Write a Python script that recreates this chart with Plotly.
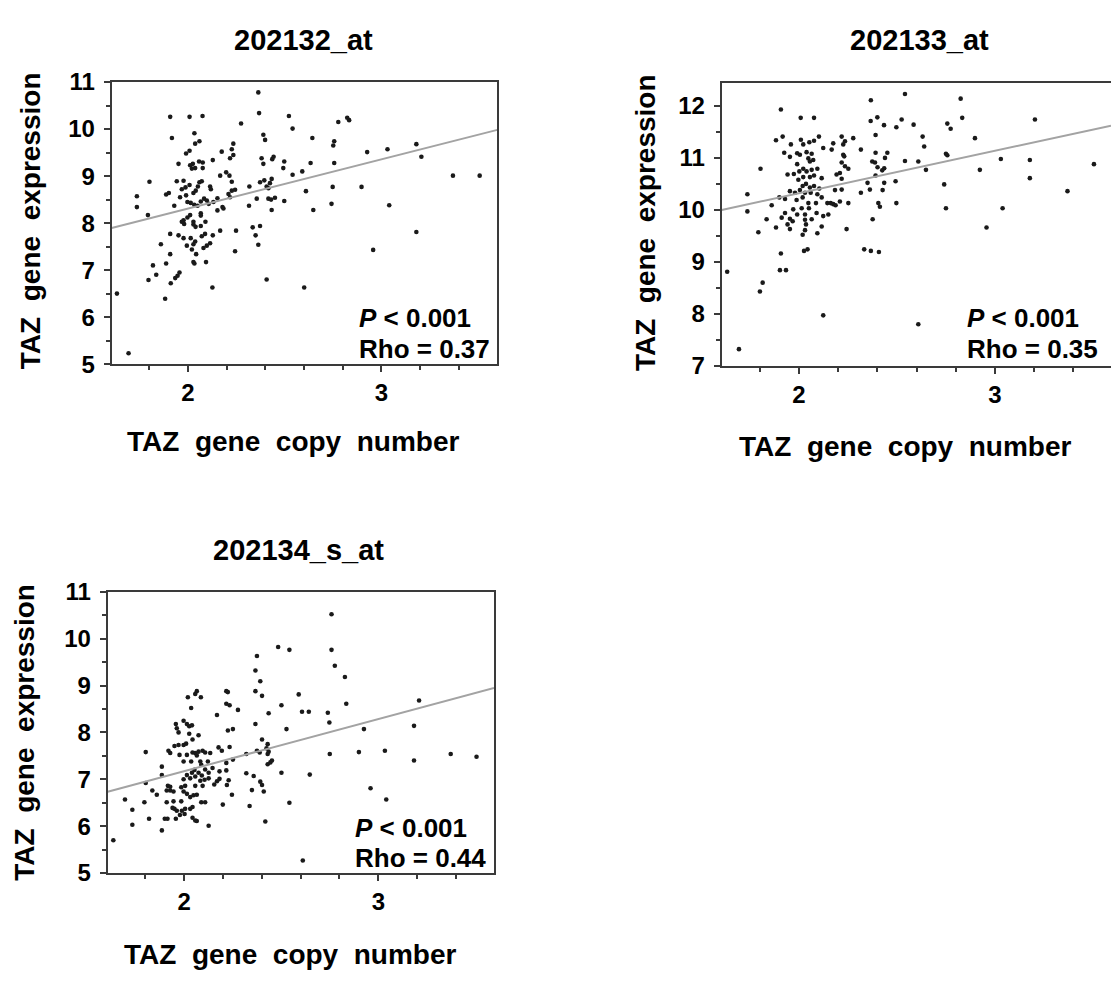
import numpy as np
import plotly.graph_objects as go

FONT = "Liberation Sans, Arial, sans-serif"
W, H = 1111, 985

# ---- 202132_at : copy number vs expression ----
cn_202132 = [
    1.909, 2.009, 2.076, 1.918, 2.034, 2.060, 2.038, 2.009, 1.991, 2.058,
    2.077, 2.026, 2.012, 2.021, 2.038, 2.077, 2.129, 1.952, 1.802, 1.943,
    1.978, 2.060, 2.072, 2.052, 2.041, 2.029, 2.009, 1.988, 1.969, 2.115,
    2.119, 1.888, 1.902, 1.737, 1.737, 1.930, 1.960, 1.991, 1.998, 2.015,
    2.033, 2.050, 2.067, 2.084, 2.098, 2.108, 2.132, 2.153, 2.153, 2.067,
    2.067, 1.794, 2.012, 1.998, 1.978, 1.969, 1.981, 2.029, 2.029, 2.040,
    2.067, 2.091, 1.909, 1.952, 1.978, 2.015, 2.038, 2.029, 1.995, 2.021,
    2.043, 2.072, 2.089, 2.129, 2.115, 2.098, 2.081, 1.861, 1.909, 1.888,
    2.029, 2.034, 2.094, 1.820, 1.837, 1.797, 1.935, 1.947, 1.957, 1.912,
    1.883, 2.127,
    2.368, 2.522, 2.275, 2.541, 2.390, 2.399, 2.235, 2.227, 2.235, 2.218,
    2.175, 2.381, 2.436, 2.443, 2.390, 2.498, 2.493, 2.167, 2.198, 2.215,
    2.227, 2.373, 2.395, 2.433, 2.407, 2.416, 2.424, 2.541, 2.591, 2.318,
    2.210, 2.227, 2.244, 2.218, 2.179, 2.184, 2.356, 2.416, 2.430, 2.450,
    2.498, 2.316, 2.433, 2.167, 2.249, 2.335, 2.373, 2.350, 2.364, 2.244,
    2.407, 2.601,
    2.777, 2.823, 2.833, 2.643, 2.756, 2.751, 2.926, 3.031, 3.180, 3.206,
    2.634, 2.756, 3.369, 3.507, 2.610, 2.748, 2.897, 2.648, 2.742, 3.040,
    3.180, 2.957, 1.634, 1.694, 2.364,
]
expr_202132 = [
    10.26, 10.26, 10.28, 9.81, 9.91, 9.74, 9.69, 9.54, 9.48, 9.31,
    9.29, 9.26, 9.23, 9.16, 9.17, 9.17, 9.34, 9.26, 8.88, 8.89,
    8.90, 8.87, 8.89, 8.78, 8.69, 8.64, 8.81, 8.76, 8.72, 8.78,
    8.72, 8.61, 8.64, 8.57, 8.34, 8.37, 8.55, 8.59, 8.45, 8.43,
    8.39, 8.37, 8.46, 8.52, 8.48, 8.41, 8.45, 8.53, 8.27, 8.21,
    8.16, 8.17, 8.17, 8.12, 8.06, 8.03, 7.98, 8.03, 7.97, 7.92,
    7.94, 8.03, 7.77, 7.74, 7.68, 7.68, 7.61, 7.55, 7.52, 7.44,
    7.34, 7.72, 7.77, 7.74, 7.57, 7.52, 7.47, 7.55, 7.34, 7.14,
    7.17, 7.14, 7.17, 7.10, 6.90, 6.79, 6.83, 6.88, 6.95, 6.72,
    6.39, 6.63,
    10.34, 10.28, 10.12, 10.01, 9.88, 9.77, 9.69, 9.57, 9.45, 9.38,
    9.52, 9.38, 9.36, 9.41, 9.26, 9.31, 9.17, 9.01, 9.08, 9.01,
    8.88, 8.87, 8.91, 8.94, 8.78, 8.74, 8.85, 9.03, 9.10, 8.78,
    8.62, 8.69, 8.71, 8.55, 8.34, 8.31, 8.52, 8.52, 8.50, 8.54,
    8.47, 8.37, 8.28, 7.84, 7.84, 7.91, 7.94, 7.74, 7.54, 7.40,
    6.80, 6.63,
    10.15, 10.24, 10.19, 9.81, 9.74, 9.65, 9.51, 9.57, 9.68, 9.41,
    9.28, 9.28, 9.01, 9.01, 8.68, 8.77, 8.77, 8.28, 8.41, 8.38,
    7.81, 7.43, 6.50, 5.23, 10.78,
]

# ---- 202133_at ----
cn_202133 = [
    1.908, 2.009, 2.077, 1.883, 1.917, 2.010, 1.959, 2.022, 2.053, 2.077,
    2.102, 2.124, 1.925, 1.954, 1.991, 2.005, 2.039, 2.065, 2.048, 2.056,
    2.073, 1.991, 2.022, 2.094, 2.065, 1.804, 1.942, 1.974, 2.002, 2.039,
    1.997, 2.022, 2.056, 2.077, 2.116, 2.019, 2.036, 2.056, 2.077, 2.104,
    2.005, 1.954, 1.980, 2.031, 2.060, 2.094, 1.737, 1.900, 1.929, 1.988,
    2.019, 2.116, 2.145, 1.861, 2.048, 2.087, 1.737, 1.971, 2.014, 2.051,
    1.929, 1.991, 2.031, 2.090, 2.124, 2.150, 1.912, 1.954, 1.968, 1.835,
    2.031, 2.065, 1.942, 2.036, 2.116, 1.883, 1.954, 2.031, 1.793, 2.019,
    2.094, 2.026, 2.044, 1.908, 1.903, 1.934, 1.815,
    2.367, 2.541, 2.366, 2.400, 2.524, 2.434, 2.497, 2.585, 2.391, 2.218,
    2.277, 2.235, 2.175, 2.226, 2.167, 2.316, 2.391, 2.451, 2.226, 2.231,
    2.439, 2.541, 2.218, 2.374, 2.388, 2.235, 2.252, 2.401, 2.435, 2.425,
    2.192, 2.209, 2.218, 2.391, 2.350, 2.435, 2.493, 2.184, 2.218, 2.362,
    2.427, 2.316, 2.162, 2.175, 2.187, 2.209, 2.252, 2.405, 2.413, 2.497,
    2.376, 2.243, 2.333, 2.367, 2.408,
    1.634, 1.694, 1.801, 2.124,
    2.631, 2.639, 2.757, 2.774, 2.825, 2.833, 2.898, 3.204, 2.609, 2.648,
    2.750, 2.757, 2.923, 3.030, 3.178, 3.505, 2.741, 3.178, 3.370, 2.750,
    3.039, 2.957, 2.609,
]
expr_202133 = [
    11.93, 11.77, 11.77, 11.34, 11.41, 11.35, 11.26, 11.26, 11.30, 11.33,
    11.41, 11.19, 11.10, 11.02, 11.09, 11.06, 11.11, 11.08, 10.99, 10.93,
    10.96, 10.88, 10.79, 10.79, 10.77, 10.79, 10.68, 10.69, 10.74, 10.74,
    10.58, 10.63, 10.63, 10.66, 10.61, 10.46, 10.50, 10.43, 10.46, 10.41,
    10.38, 10.36, 10.33, 10.33, 10.33, 10.30, 10.30, 10.24, 10.21, 10.19,
    10.24, 10.24, 10.13, 10.09, 10.13, 10.13, 9.97, 10.01, 10.03, 10.03,
    9.94, 9.91, 9.91, 9.94, 9.88, 9.91, 9.85, 9.83, 9.78, 9.82,
    9.81, 9.82, 9.72, 9.72, 9.68, 9.66, 9.63, 9.61, 9.57, 9.52,
    9.55, 9.21, 9.24, 9.16, 8.84, 8.84, 8.60,
    12.11, 12.23, 11.71, 11.78, 11.74, 11.63, 11.59, 11.64, 11.44, 11.41,
    11.38, 11.32, 11.28, 11.26, 11.16, 11.16, 11.10, 11.10, 11.06, 11.03,
    11.00, 10.94, 10.91, 10.93, 10.91, 10.84, 10.79, 10.82, 10.80, 10.76,
    10.68, 10.71, 10.60, 10.66, 10.52, 10.52, 10.55, 10.38, 10.39, 10.39,
    10.38, 10.33, 10.13, 10.11, 10.09, 10.16, 10.13, 10.13, 10.06, 10.13,
    9.82, 9.63, 9.24, 9.21, 9.19,
    8.81, 7.32, 8.43, 7.97,
    11.41, 11.22, 11.66, 11.56, 12.14, 11.77, 11.38, 11.74, 10.93, 10.77,
    11.08, 11.05, 10.77, 10.98, 10.96, 10.88, 10.49, 10.61, 10.36, 10.03,
    10.03, 9.66, 7.80,
]

# ---- 202134_s_at ----
cn_202134 = [
    2.065, 2.057, 2.019, 2.086, 2.036, 1.957, 1.962, 1.997, 2.014, 2.026,
    2.040, 1.971, 2.026, 2.074, 2.043, 2.010, 1.997, 1.971, 1.950, 1.919,
    1.928, 1.976, 2.014, 2.043, 2.057, 2.074, 2.095, 2.108, 2.065, 2.134,
    1.802, 1.997, 2.036, 2.083, 1.885, 2.122, 2.088, 2.053, 2.040, 2.108,
    2.074, 2.126, 2.146, 1.885, 2.014, 1.997, 2.031, 2.057, 2.091, 2.083,
    2.105, 2.126, 1.802, 1.916, 1.928, 1.910, 1.928, 1.945, 1.985, 2.005,
    1.836, 1.859, 1.997, 2.014, 2.057, 2.095, 2.031, 2.048, 2.065, 1.695,
    1.795, 1.910, 1.945, 1.985, 2.088, 2.108, 1.733, 1.940, 1.950, 1.962,
    1.988, 2.005, 2.031, 2.043, 1.978, 2.002, 1.819, 1.900, 1.914, 1.957,
    2.043, 2.057, 2.065, 1.733, 1.885,
    2.375, 2.367, 2.392, 2.217, 2.225, 2.367, 2.401, 2.217, 2.234, 2.277,
    2.169, 2.590, 2.501, 2.435, 2.607, 2.642, 2.367, 2.225, 2.251, 2.527,
    2.401, 2.177, 2.194, 2.234, 2.430, 2.320, 2.375, 2.389, 2.424, 2.435,
    2.430, 2.217, 2.251, 2.430, 2.444, 2.452, 2.182, 2.217, 2.320, 2.358,
    2.501, 2.647, 2.155, 2.169, 2.182, 2.229, 2.220, 2.392, 2.401, 2.410,
    2.349, 2.246, 2.199, 2.337, 2.542, 2.418,
    1.635, 2.484, 2.542, 2.126,
    2.759, 2.759, 2.776, 2.828, 2.740, 2.748, 2.835, 3.210, 3.184, 2.926,
    2.750, 2.900, 3.034, 3.184, 3.373, 3.506, 2.960, 3.041, 2.611,
]
expr_202134 = [
    8.88, 8.82, 8.75, 8.75, 8.52, 8.18, 8.09, 8.25, 8.18, 8.13,
    8.15, 8.00, 7.97, 7.94, 7.85, 7.76, 7.73, 7.73, 7.71, 7.61,
    7.56, 7.52, 7.52, 7.57, 7.56, 7.59, 7.61, 7.57, 7.51, 7.56,
    7.58, 7.38, 7.38, 7.38, 7.27, 7.38, 7.31, 7.20, 7.14, 7.21,
    7.14, 7.14, 7.24, 7.09, 7.09, 7.00, 7.02, 7.06, 7.08, 6.97,
    6.99, 7.02, 6.92, 6.86, 6.84, 6.76, 6.76, 6.74, 6.83, 6.86,
    6.76, 6.67, 6.74, 6.69, 6.86, 6.86, 6.62, 6.66, 6.67, 6.57,
    6.51, 6.51, 6.53, 6.53, 6.51, 6.51, 6.35, 6.39, 6.37, 6.33,
    6.33, 6.37, 6.37, 6.41, 6.24, 6.26, 6.16, 6.16, 6.16, 6.16,
    6.18, 6.12, 6.11, 6.03, 5.91,
    9.63, 9.32, 9.09, 8.88, 8.86, 8.88, 8.78, 8.61, 8.58, 8.48,
    8.37, 8.81, 8.58, 8.41, 8.44, 8.44, 8.18, 8.04, 8.07, 8.07,
    7.85, 7.68, 7.61, 7.69, 7.75, 7.54, 7.61, 7.57, 7.66, 7.59,
    7.54, 7.35, 7.42, 7.32, 7.36, 7.40, 7.17, 7.19, 7.13, 7.07,
    7.14, 7.10, 6.89, 6.96, 7.01, 6.98, 6.88, 6.95, 6.88, 6.74,
    6.77, 6.67, 6.46, 6.43, 6.50, 6.10,
    5.70, 9.82, 9.76, 6.01,
    10.52, 9.76, 9.42, 9.18, 8.42, 8.21, 8.61, 8.68, 8.14, 8.07,
    7.54, 7.58, 7.61, 7.40, 7.54, 7.48, 6.81, 6.57, 5.27,
]

probe_names = ["202132_at", "202133_at", "202134_s_at"]
rho_values = ["0.37", "0.35", "0.44"]
p_text = "&lt; 0.001"
x_label = "TAZ gene copy number"
y_label = "TAZ gene expression"

# the axis titles are set with generous word spacing
WIDE = "\u00a0 "


def px(x):
    return x / W


def py(y):
    return 1 - y / H


# pixel boxes for each panel: (left, right, top, bottom)
panels = [
    dict(cn=cn_202132, ex=expr_202132, box=(111.7, 497.3, 70, 360),
         xr=[1.607, 3.598], yr=[5, 11], ymirror=True,
         title_xy=(303, 27), xt_xy=(293, 440), yt_xy=(30, 213), stat_xy=(357, 313)),
    dict(cn=cn_202133, ex=expr_202133, box=(721.7, 1111, 71, 361.7),
         xr=[1.606, 3.592], yr=[7, 12.44], ymirror=False,
         title_xy=(919, 27), xt_xy=(905, 445), yt_xy=(645, 215), stat_xy=(965, 313)),
    dict(cn=cn_202134, ex=expr_202134, box=(107.7, 494, 594, 883.3),
         xr=[1.606, 3.596], yr=[5, 11], ymirror=True,
         title_xy=(298, 551), xt_xy=(290, 967), yt_xy=(25, 739), stat_xy=(353, 837)),
]

fig = go.Figure()
annotations = []
AX = "#3a3a3a"

for i, (p, name, rho) in enumerate(zip(panels, probe_names, rho_values)):
    n = "" if i == 0 else str(i + 1)
    xa, ya = "x" + n, "y" + n
    cn = np.array(p["cn"])
    ex = np.array(p["ex"])

    fig.add_trace(go.Scatter(
        x=cn, y=ex, mode="markers", xaxis=xa, yaxis=ya,
        marker=dict(size=4.6, color="#1a1a1a"), showlegend=False,
        hoverinfo="skip"))

    # least-squares trend line over the full x range
    slope, intercept = np.polyfit(cn, ex, 1)
    xl = np.array(p["xr"])
    fig.add_trace(go.Scatter(
        x=xl, y=intercept + slope * xl, mode="lines", xaxis=xa, yaxis=ya,
        line=dict(color="#a3a3a3", width=2), showlegend=False,
        hoverinfo="skip"))

    l, r, t, b = p["box"]
    common = dict(showline=True, linecolor=AX, linewidth=2, ticks="outside",
                  tickcolor=AX, tickwidth=2, ticklen=6, showgrid=False,
                  zeroline=False,
                  tickfont=dict(family=FONT, size=24, color="black", weight="bold"))
    fig.layout["xaxis" + n] = dict(
        domain=[px(l), px(r)], range=p["xr"], anchor=ya, mirror=True,
        dtick=1, tick0=0, ticklabelstandoff=0,
        minor=dict(dtick=0.2, tick0=0, ticks="outside", ticklen=4,
                   tickwidth=2, tickcolor=AX),
        **common)
    fig.layout["yaxis" + n] = dict(
        domain=[py(b), py(t)], range=p["yr"], anchor=xa, mirror=p["ymirror"],
        dtick=1, tick0=0, ticklabelstandoff=4,
        minor=dict(dtick=0.5, tick0=0, ticks="outside", ticklen=4,
                   tickwidth=2, tickcolor=AX),
        **common)

    bold = dict(family=FONT, color="black", weight="bold")
    tx, ty = p["title_xy"]
    annotations.append(dict(text=name, x=px(tx), y=py(ty), xref="paper",
                            yref="paper", showarrow=False, xanchor="center",
                            yanchor="middle", font=dict(size=29, **bold)))
    ax_, ay_ = p["xt_xy"]
    annotations.append(dict(text=x_label.replace(" ", WIDE), x=px(ax_), y=py(ay_),
                            xref="paper", yref="paper", showarrow=False,
                            xanchor="center", yanchor="middle",
                            font=dict(size=28, **bold)))
    yx, yy = p["yt_xy"]
    annotations.append(dict(text=y_label.replace(" ", WIDE), x=px(yx), y=py(yy),
                            xref="paper", yref="paper", showarrow=False,
                            xanchor="center", yanchor="middle", textangle=-90,
                            font=dict(size=28, **bold)))
    sx, sy = p["stat_xy"]
    annotations.append(dict(text="<i>P</i> " + p_text, x=px(sx), y=py(sy),
                            xref="paper", yref="paper", showarrow=False,
                            xanchor="left", yanchor="middle",
                            font=dict(size=26, **bold)))
    annotations.append(dict(text="Rho = " + rho, x=px(sx), y=py(sy + 31),
                            xref="paper", yref="paper", showarrow=False,
                            xanchor="left", yanchor="middle",
                            font=dict(size=26, **bold)))

fig.update_layout(
    width=W, height=H, margin=dict(l=0, r=0, t=0, b=0),
    paper_bgcolor="white", plot_bgcolor="white",
    annotations=annotations, showlegend=False,
)

fig.write_html("out.html", include_plotlyjs=True)
